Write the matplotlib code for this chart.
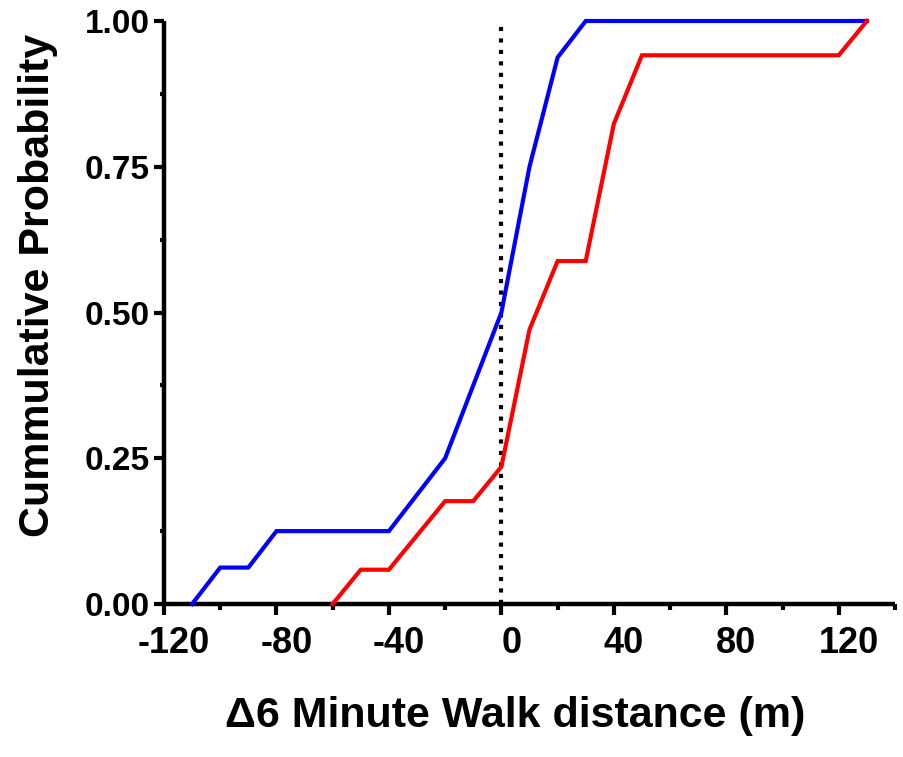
import matplotlib
matplotlib.use("Agg")
import matplotlib.pyplot as plt
import matplotlib.transforms as mtransforms
from matplotlib.ticker import MultipleLocator, FixedLocator

# ---------------- data ----------------
# cumulative probability curves
blue_x = [-110, -100, -90, -80, -40, -20, 0, 10, 20, 30, 130]
blue_y = [0, 1/16, 1/16, 2/16, 2/16, 4/16, 8/16, 12/16, 15/16, 1, 1]

red_x = [-60, -50, -40, -20, -10, 0, 10, 20, 30, 40, 50, 120, 130]
red_y = [0, 1/17, 1/17, 3/17, 3/17, 4/17, 8/17, 10/17, 10/17, 14/17, 16/17, 16/17, 1]

x_ticks = [-120, -80, -40, 0, 40, 80, 120]
y_ticks = [0.0, 0.25, 0.5, 0.75, 1.0]

plt.rcParams['font.family'] = ['Liberation Sans', 'DejaVu Sans']
plt.rcParams['font.weight'] = 'bold'

fig = plt.figure(figsize=(9.04, 7.57), dpi=100)
ax = fig.add_axes([164 / 904, 1 - 604 / 757, (895 - 164) / 904, (604 - 21) / 757])

ax.plot(blue_x, blue_y, color='#0000ff', lw=3, solid_joinstyle='miter', clip_on=False, zorder=3)
ax.plot(red_x, red_y, color='#ff0000', lw=3, solid_joinstyle='miter', clip_on=False, zorder=3)

# dotted line at zero change
ax.plot([0, 0], [0, 1], color='black', lw=3, linestyle=(0, (1, 1.75)), clip_on=False, zorder=2)

ax.set_xlim(-120, 140)
ax.set_ylim(0, 1)

for side in ['top', 'right']:
    ax.spines[side].set_visible(False)
for side in ['left', 'bottom']:
    ax.spines[side].set_linewidth(3.2)
    ax.spines[side].set_capstyle('butt')

ax.xaxis.set_major_locator(FixedLocator(x_ticks))
ax.xaxis.set_minor_locator(MultipleLocator(20))
ax.yaxis.set_major_locator(FixedLocator(y_ticks))
ax.yaxis.set_minor_locator(MultipleLocator(0.125))

ax.tick_params(axis='x', which='major', length=8, width=3, pad=8, labelsize=26)
ax.tick_params(axis='x', which='minor', length=4.3, width=3)
ax.tick_params(axis='y', which='major', length=7.5, width=3, pad=3, labelsize=24)
ax.tick_params(axis='y', which='minor', length=3, width=3)

ax.set_xticklabels([str(t) for t in x_ticks], fontweight='bold')
ax.set_yticklabels(['%.2f' % t for t in y_ticks], fontweight='bold')

# x tick labels sit a little right of their ticks in the original
shift = mtransforms.ScaledTranslation(10 / 100, 0, fig.dpi_scale_trans)
for lab in ax.get_xticklabels():
    lab.set_transform(lab.get_transform() + shift)

ax.set_xlabel('Δ6 Minute Walk distance (m)', fontsize=31, fontweight='bold')
ax.set_ylabel('Cummulative Probability', fontsize=31, fontweight='bold')
ax.xaxis.set_label_coords((515 - 164) / (895 - 164), -(716 - 604) / (604 - 21))
ax.yaxis.set_label_coords(-(164 - 38) / (895 - 164), (604 - 285) / (604 - 21))
ax.xaxis.label.set_va('center')
ax.yaxis.label.set_va('center')

fig.savefig('out.png', dpi=100)
